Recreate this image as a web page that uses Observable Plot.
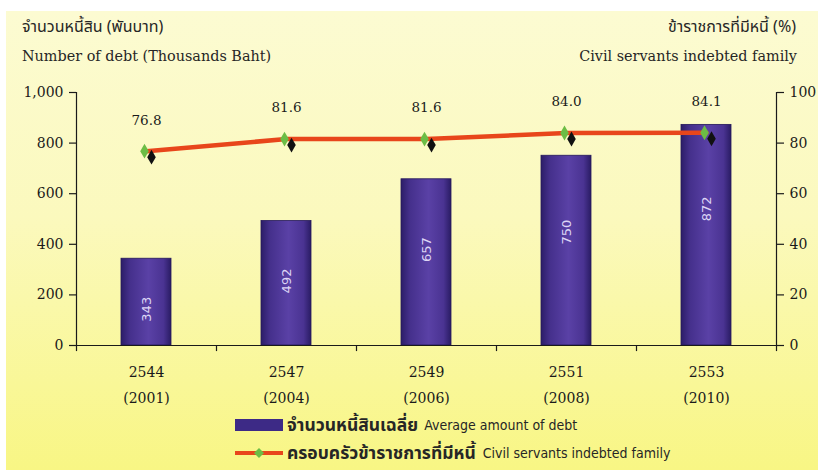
<!DOCTYPE html>
<html><head><meta charset="utf-8">
<script src="https://cdn.jsdelivr.net/npm/d3@7"></script>
<script src="https://cdn.jsdelivr.net/npm/@observablehq/plot@0.6"></script>
<style>
body{margin:0;background:#fff;}
#wrap{position:relative;width:818px;height:470px;overflow:hidden;background:#fff;}
#bg{position:absolute;left:6px;top:11px;right:0;bottom:0;background:linear-gradient(#fcfbd2 0%,#fbf9bd 45%,#f8f684 100%);}
#chart{position:absolute;left:0;top:0;}
.t{position:absolute;white-space:nowrap;color:#262626;}
.th{font-family:"Noto Sans Thai","Noto Sans","DejaVu Sans",sans-serif;}
.ser{font-family:"DejaVu Serif",serif;}
.nar{font-family:"Liberation Sans Narrow","DejaVu Sans Condensed",sans-serif;}
</style></head>
<body>
<div id="wrap">
  <div id="bg"></div>
  <div id="chart"></div>
  <div class="t th" style="left:22px;top:15px;font-size:16px;">จำนวนหนี้สิน (พันบาท)</div>
  <div class="t ser" style="left:22px;top:48px;font-size:14.4px;">Number of debt (Thousands Baht)</div>
  <div class="t th" style="right:22px;top:15px;font-size:16px;">ข้าราชการที่มีหนี้ (%)</div>
  <div class="t ser" style="right:21px;top:48px;font-size:14.4px;">Civil servants indebted family</div>
  <div class="t" style="left:235px;top:413px;height:24px;display:flex;align-items:center;">
    <svg width="48" height="12"><rect x="0" y="0" width="48" height="12" fill="#3d2a86"/></svg>
    <span class="th" style="font-size:17.5px;font-weight:bold;margin-left:4px;">จำนวนหนี้สินเฉลี่ย</span>
    <span class="nar" style="font-size:14px;margin-left:6px;">Average amount of debt</span>
  </div>
  <div class="t" style="left:235px;top:441px;height:24px;display:flex;align-items:center;">
    <svg width="48" height="12"><line x1="0" x2="48" y1="6" y2="6" stroke="#e8461b" stroke-width="4"/><path d="M24,1 L29,6 L24,11 L19,6 Z" fill="#6cbd45"/></svg>
    <span class="th" style="font-size:17.5px;font-weight:bold;margin-left:4px;">ครอบครัวข้าราชการที่มีหนี้</span>
    <span class="nar" style="font-size:14px;margin-left:7px;">Civil servants indebted family</span>
  </div>
</div>
<script>
const years = ["2544", "2547", "2549", "2551", "2553"];
const yearsCE = ["(2001)", "(2004)", "(2006)", "(2008)", "(2010)"];
const avgDebt = [343, 492, 657, 750, 872];
const indebtedPct = [76.8, 81.6, 81.6, 84.0, 84.1];
const leftTicks = [0, 200, 400, 600, 800, 1000];
const rightTicks = [0, 20, 40, 60, 80, 100];

const ratio = leftTicks[leftTicks.length - 1] / rightTicks[rightTicks.length - 1];
const data = years.map((y, i) => ({year: y, ce: yearsCE[i], debt: avgDebt[i], pct: indebtedPct[i]}));

const W = 818, H = 470, mL = 76, mR = 42, mT = 92, mB = 125;
const half = (W - mL - mR) / years.length / 2;
const tickLen = 24;

const defs = () => {
  const d = document.createElementNS("http://www.w3.org/2000/svg", "defs");
  d.innerHTML = `<linearGradient id="barGrad" x1="0" x2="1" y1="0" y2="0">
    <stop offset="0" stop-color="#2c1d68"/>
    <stop offset="0.18" stop-color="#45308c"/>
    <stop offset="0.55" stop-color="#5a41a6"/>
    <stop offset="0.85" stop-color="#4a3392"/>
    <stop offset="1" stop-color="#2a1c64"/>
  </linearGradient>`;
  return d;
};

const serif = "DejaVu Serif, serif";

const plot = Plot.plot({
  width: W, height: H,
  marginLeft: mL, marginRight: mR, marginTop: mT, marginBottom: mB,
  style: {background: "transparent", overflow: "visible", color: "#1a1a1a"},
  x: {domain: years, paddingInner: 0.643, paddingOuter: 0.3215, axis: null},
  y: {domain: [0, 1000], axis: null},
  marks: [
    defs,
    Plot.barY(data, {x: "year", y: "debt", fill: "url(#barGrad)", stroke: "#24175a", strokeWidth: 0.8}),
    Plot.text(data, {x: "year", y: d => d.debt * 0.75 - 114, text: d => String(d.debt), rotate: -90,
      fill: "#ddd5f5", fontSize: 13, fontFamily: "DejaVu Sans, sans-serif", style: "letter-spacing:1.5px"}),
    // axes lines
    Plot.ruleY([0], {stroke: "#1a1a1a", strokeWidth: 1.2}),
    Plot.ruleX([years[0]], {dx: -half, y1: 0, y2: 1000, stroke: "#1a1a1a", strokeWidth: 1.2}),
    Plot.ruleX([years[years.length - 1]], {dx: half, y1: 0, y2: 1000, stroke: "#1a1a1a", strokeWidth: 1.2}),
    Plot.ruleX(years, {dx: -half, y1: 0, y2: -tickLen, stroke: "#1a1a1a", strokeWidth: 1.2}),
    Plot.ruleX([years[years.length - 1]], {dx: half, y1: 0, y2: -tickLen, stroke: "#1a1a1a", strokeWidth: 1.2}),
    Plot.axisY({anchor: "left", ticks: leftTicks, tickFormat: d3.format(","), tickSize: 7, tickPadding: 6,
      fontSize: 14, fontFamily: serif, stroke: "#1a1a1a", strokeWidth: 1.2, label: null}),
    Plot.axisY({anchor: "right", ticks: rightTicks.map(d => d * ratio), tickFormat: d => String(d / ratio), tickSize: 7, tickPadding: 6,
      fontSize: 14, fontFamily: serif, stroke: "#1a1a1a", strokeWidth: 1.2, label: null}),
    // x labels
    Plot.text(data, {x: "year", y: 0, dy: 27, text: "year", fontSize: 14, fontFamily: serif, fill: "#1a1a1a"}),
    Plot.text(data, {x: "year", y: 0, dy: 53, text: "ce", fontSize: 14, fontFamily: serif, fill: "#1a1a1a"}),
    // line series
    Plot.line(data, {x: "year", y: d => d.pct * ratio, stroke: "#e8461b", strokeWidth: 4.5}),
    Plot.dot(data, {x: "year", y: d => d.pct * ratio, symbol: "diamond", r: 4.5, fill: "#111", dx: 5, dy: 6}),
    Plot.dot(data, {x: "year", y: d => d.pct * ratio, symbol: "diamond", r: 4.5, fill: "#6cbd45", dx: -2}),
    Plot.text(data, {x: "year", y: d => d.pct * ratio, dy: -31, text: d => d.pct.toFixed(1), fontSize: 13.5, fontFamily: serif, fill: "#1a1a1a"})
  ]
});
document.getElementById("chart").appendChild(plot);
</script>
</body></html>
